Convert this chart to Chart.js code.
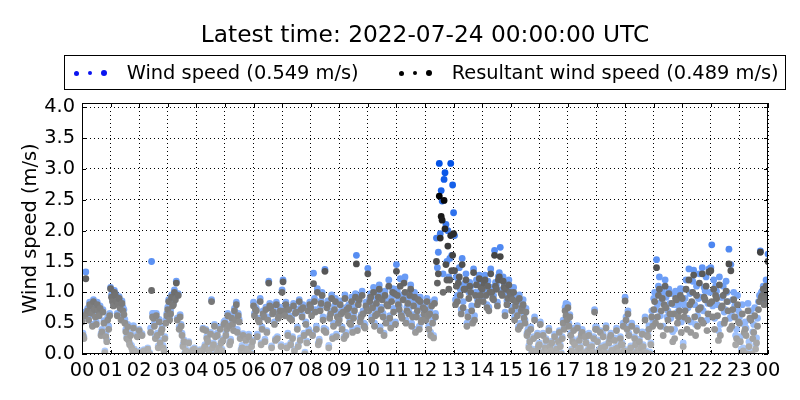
<!DOCTYPE html>
<html>
<head>
<meta charset="utf-8">
<title>Wind speed</title>
<script src="https://cdn.jsdelivr.net/npm/chart.js@4.4.1/dist/chart.umd.min.js"></script>
<style>
  body { margin: 0; background: #fff; }
  #wrap { position: relative; width: 800px; height: 400px; font-family: 'DejaVu Sans', sans-serif; color: #000; }
  #title { position: absolute; left: 125px; width: 600px; top: 22px; text-align: center; font-size: 23.3px; line-height: 1; white-space: nowrap; }
  #legend { position: absolute; left: 64px; top: 55px; width: 722px; height: 35px; border: 1px solid #000; box-sizing: border-box; background: #fff; }
  .lbl { position: absolute; top: 6.6px; font-size: 19.4px; line-height: 1; white-space: nowrap; }
  .dot { position: absolute; border-radius: 50%; }
</style>
</head>
<body>
<div id="wrap">
  <canvas id="chart"></canvas>
  <div id="title">Latest time: 2022-07-24 00:00:00 UTC</div>
  <div id="legend"></div>
</div>
<script>
/* Wind speed vs resultant wind speed, one value every 2 minutes,
   read off the reference plot (00:00 -> 24:00 UTC), one line per hour. */

const stepMinutes = 2;

const hourTicks = ['00', '01', '02', '03', '04', '05', '06', '07', '08', '09', '10', '11',
  '12', '13', '14', '15', '16', '17', '18', '19', '20', '21', '22', '23', '00'];

const windSpeed = [
  0.56, 0.34, 0.28, 0.68, 1.33, 0.70, 0.74, 0.60, 0.84, 0.82, 0.70, 0.48, 0.88, 0.76, 0.64, 0.52, 0.84, 0.74, 0.66, 0.78, 0.33, 0.40, 0.72, 0.54, 0.05, 0.32, 0.23, 0.60, 0.45, 0.66,
  1.08, 0.96, 0.88, 0.82, 1.03, 0.98, 0.88, 0.66, 0.84, 0.93, 0.78, 0.60, 0.86, 0.76, 0.72, 0.56, 0.40, 0.28, 0.48, 0.26, 0.18, 0.34, 0.14, 0.08, 0.46, 0.08, 0.02, 0.02, 0.32, 0.04,
  0.40, 0.05, 0.02, 0.33, 0.02, 0.07, 0.06, 0.03, 0.04, 0.10, 0.02, 0.02, 0.42, 1.50, 0.66, 0.66, 0.50, 0.28, 0.66, 0.34, 0.13, 0.56, 0.22, 0.38, 0.44, 0.14, 0.08, 0.28, 0.55, 0.66,
  0.76, 0.88, 0.58, 0.70, 0.96, 0.82, 0.84, 1.04, 0.92, 1.18, 0.58, 0.98, 0.44, 0.64, 0.48, 0.34, 0.15, 0.23, 0.02, 0.08, 0.04, 0.02, 0.20, 0.02, 0.02, 0.04, 0.08, 0.02, 0.10, 0.02,
  0.02, 0.04, 0.02, 0.02, 0.07, 0.05, 0.02, 0.42, 0.10, 0.15, 0.40, 0.28, 0.23, 0.09, 0.02, 0.35, 0.88, 0.13, 0.18, 0.48, 0.31, 0.03, 0.34, 0.08, 0.13, 0.44, 0.21, 0.08, 0.25, 0.52,
  0.54, 0.34, 0.44, 0.66, 0.48, 0.18, 0.24, 0.62, 0.52, 0.42, 0.74, 0.60, 0.84, 0.40, 0.66, 0.56, 0.28, 0.08, 0.14, 0.33, 0.02, 0.03, 0.26, 0.11, 0.08, 0.32, 0.02, 0.02, 0.15, 0.23,
  0.84, 0.66, 0.76, 0.74, 0.32, 0.58, 0.56, 0.90, 0.18, 0.44, 0.70, 0.64, 0.24, 0.76, 0.38, 0.60, 1.18, 0.82, 0.80, 0.13, 0.70, 0.72, 0.52, 0.25, 0.84, 0.28, 0.62, 0.66, 0.76, 0.15,
  1.04, 1.20, 0.74, 0.66, 0.84, 0.13, 0.34, 0.76, 0.62, 0.18, 0.60, 0.28, 0.82, 0.08, 0.70, 0.73, 0.44, 0.15, 0.88, 0.26, 0.76, 0.64, 0.80, 0.34, 0.03, 0.52, 0.21, 0.75, 0.40, 0.84,
  0.80, 0.68, 0.34, 1.31, 0.90, 0.72, 0.45, 1.06, 0.18, 0.24, 0.76, 0.86, 1.00, 0.60, 0.42, 1.37, 0.40, 0.80, 0.86, 0.14, 0.62, 0.70, 0.96, 0.28, 0.50, 0.78, 0.90, 0.32, 0.66, 0.54,
  0.60, 0.86, 0.70, 0.44, 0.74, 0.28, 0.96, 0.35, 0.76, 0.68, 0.80, 0.54, 0.52, 0.92, 0.40, 0.64, 0.76, 0.98, 1.60, 0.42, 0.86, 0.94, 0.58, 0.64, 1.02, 0.70, 0.50, 0.48, 0.84, 0.76,
  1.39, 0.76, 0.90, 0.98, 0.60, 0.80, 1.08, 0.50, 0.66, 0.90, 0.72, 0.98, 1.12, 0.44, 0.76, 0.95, 0.66, 0.34, 1.02, 0.56, 0.86, 0.84, 1.20, 0.62, 0.48, 0.92, 1.06, 0.74, 1.05, 0.52,
  1.45, 1.02, 0.86, 0.78, 1.22, 0.66, 0.64, 0.96, 1.20, 1.25, 0.55, 0.76, 0.90, 0.72, 1.00, 1.12, 0.50, 0.64, 0.86, 1.00, 0.40, 0.66, 0.78, 0.92, 0.45, 0.92, 0.56, 0.60, 0.82, 0.70,
  0.78, 0.60, 0.90, 0.66, 0.45, 0.72, 0.35, 0.84, 0.55, 0.30, 0.88, 0.66, 1.88, 1.40, 1.65, 3.09, 1.95, 2.65, 2.48, 1.30, 2.83, 2.94, 2.10, 1.50, 2.00, 1.25, 1.55, 3.09, 1.60, 2.74,
  2.29, 1.92, 0.88, 1.25, 0.95, 1.22, 1.40, 1.05, 0.72, 1.55, 0.85, 1.12, 1.15, 1.30, 0.50, 0.68, 1.00, 1.16, 1.10, 0.78, 0.55, 1.38, 0.62, 1.00, 1.20, 0.88, 0.90, 1.28, 1.02, 1.14,
  1.12, 0.92, 1.20, 1.28, 1.02, 0.80, 1.18, 0.76, 1.06, 1.38, 1.08, 0.96, 0.95, 1.68, 1.16, 1.12, 0.84, 1.26, 1.32, 1.73, 1.04, 1.02, 1.25, 1.14, 0.68, 1.12, 0.86, 0.98, 1.20, 1.06,
  1.02, 0.76, 0.94, 1.08, 0.60, 0.84, 0.92, 0.68, 0.44, 0.96, 0.50, 0.76, 0.82, 0.88, 0.64, 0.55, 0.74, 0.34, 0.40, 0.14, 0.23, 0.44, 0.03, 0.08, 0.28, 0.60, 0.02, 0.08, 0.34, 0.15,
  0.18, 0.52, 0.04, 0.03, 0.34, 0.02, 0.13, 0.25, 0.08, 0.02, 0.42, 0.15, 0.08, 0.21, 0.02, 0.02, 0.32, 0.05, 0.11, 0.03, 0.23, 0.38, 0.15, 0.02, 0.28, 0.55, 0.44, 0.76, 0.82, 0.60,
  0.80, 0.50, 0.64, 0.34, 0.08, 0.24, 0.42, 0.18, 0.02, 0.02, 0.46, 0.11, 0.25, 0.13, 0.33, 0.40, 0.03, 0.04, 0.32, 0.21, 0.02, 0.08, 0.34, 0.13, 0.02, 0.15, 0.05, 0.28, 0.72, 0.44,
  0.44, 0.23, 0.02, 0.08, 0.38, 0.13, 0.02, 0.32, 0.04, 0.15, 0.46, 0.02, 0.03, 0.21, 0.28, 0.34, 0.09, 0.02, 0.02, 0.26, 0.11, 0.42, 0.13, 0.04, 0.02, 0.28, 0.18, 0.18, 0.50, 0.08,
  0.92, 0.60, 0.44, 0.70, 0.34, 0.08, 0.13, 0.50, 0.03, 0.03, 0.28, 0.18, 0.42, 0.08, 0.02, 0.24, 0.02, 0.13, 0.36, 0.15, 0.05, 0.60, 0.05, 0.36, 0.32, 0.46, 0.03, 0.18, 0.70, 0.55,
  0.90, 1.00, 0.72, 1.53, 0.80, 1.10, 1.25, 0.62, 0.85, 1.02, 0.45, 0.98, 1.20, 0.92, 0.60, 0.70, 1.05, 0.82, 0.58, 0.98, 0.36, 0.80, 0.40, 1.02, 1.00, 0.68, 0.78, 0.85, 1.06, 0.52,
  1.05, 0.18, 0.80, 0.90, 1.20, 0.58, 0.75, 1.38, 0.98, 0.52, 1.00, 1.18, 1.36, 0.80, 0.48, 1.10, 0.62, 0.90, 1.30, 0.92, 0.75, 1.40, 0.70, 1.08, 1.02, 1.25, 0.55, 0.82, 1.38, 1.00,
  1.40, 1.77, 0.78, 1.20, 0.58, 1.10, 1.02, 0.80, 0.38, 1.25, 0.48, 0.92, 0.92, 1.10, 0.68, 0.72, 1.18, 1.00, 0.85, 1.70, 0.58, 1.45, 0.62, 0.88, 1.00, 0.78, 0.30, 0.40, 0.95, 0.70,
  0.60, 0.28, 0.08, 0.80, 0.10, 0.48, 0.52, 0.42, 0.04, 0.82, 0.20, 0.70, 0.70, 0.04, 0.36, 0.48, 0.75, 0.15, 0.26, 0.58, 0.85, 0.95, 1.67, 1.00, 1.02, 1.10, 0.88, 0.98, 1.20, 1.08,
  1.62
];

const resultantSpeed = [
  0.52, 0.30, 0.25, 0.62, 1.22, 0.66, 0.70, 0.55, 0.80, 0.78, 0.66, 0.45, 0.85, 0.72, 0.60, 0.48, 0.80, 0.70, 0.62, 0.74, 0.30, 0.36, 0.68, 0.50, 0.02, 0.28, 0.20, 0.55, 0.40, 0.62,
  1.06, 0.92, 0.85, 0.78, 1.00, 0.95, 0.85, 0.62, 0.80, 0.90, 0.74, 0.55, 0.82, 0.70, 0.64, 0.50, 0.36, 0.25, 0.44, 0.22, 0.15, 0.30, 0.10, 0.05, 0.42, 0.05, 0.00, 0.00, 0.28, 0.02,
  0.38, 0.02, 0.00, 0.30, 0.00, 0.05, 0.04, 0.00, 0.02, 0.08, 0.00, 0.00, 0.35, 1.03, 0.60, 0.58, 0.45, 0.25, 0.62, 0.30, 0.10, 0.52, 0.18, 0.35, 0.40, 0.10, 0.05, 0.25, 0.50, 0.62,
  0.72, 0.85, 0.55, 0.65, 0.92, 0.78, 0.80, 1.00, 0.88, 1.15, 0.55, 0.95, 0.40, 0.60, 0.45, 0.30, 0.12, 0.20, 0.00, 0.05, 0.02, 0.00, 0.18, 0.00, 0.00, 0.02, 0.06, 0.00, 0.08, 0.00,
  0.00, 0.02, 0.00, 0.00, 0.05, 0.03, 0.00, 0.40, 0.08, 0.12, 0.38, 0.25, 0.20, 0.06, 0.00, 0.32, 0.85, 0.10, 0.15, 0.45, 0.28, 0.00, 0.30, 0.05, 0.10, 0.40, 0.18, 0.05, 0.22, 0.48,
  0.50, 0.30, 0.40, 0.62, 0.45, 0.15, 0.20, 0.58, 0.48, 0.38, 0.70, 0.55, 0.80, 0.35, 0.62, 0.52, 0.25, 0.05, 0.10, 0.30, 0.00, 0.00, 0.22, 0.08, 0.05, 0.28, 0.00, 0.00, 0.12, 0.20,
  0.78, 0.62, 0.72, 0.70, 0.28, 0.55, 0.52, 0.85, 0.15, 0.40, 0.65, 0.60, 0.20, 0.72, 0.35, 0.55, 1.15, 0.78, 0.75, 0.10, 0.65, 0.68, 0.48, 0.22, 0.80, 0.25, 0.58, 0.62, 0.70, 0.12,
  1.00, 1.17, 0.70, 0.62, 0.80, 0.10, 0.30, 0.72, 0.58, 0.15, 0.55, 0.25, 0.78, 0.05, 0.66, 0.68, 0.40, 0.12, 0.85, 0.22, 0.72, 0.60, 0.75, 0.30, 0.00, 0.48, 0.18, 0.70, 0.35, 0.80,
  0.75, 0.62, 0.30, 1.14, 0.85, 0.68, 0.40, 1.00, 0.15, 0.20, 0.70, 0.82, 0.95, 0.55, 0.38, 1.34, 0.35, 0.75, 0.80, 0.10, 0.58, 0.65, 0.90, 0.25, 0.45, 0.72, 0.85, 0.28, 0.60, 0.50,
  0.55, 0.80, 0.65, 0.40, 0.68, 0.25, 0.90, 0.30, 0.72, 0.62, 0.75, 0.50, 0.48, 0.85, 0.35, 0.58, 0.70, 0.92, 1.46, 0.38, 0.80, 0.88, 0.52, 0.60, 0.95, 0.65, 0.45, 0.42, 0.78, 0.70,
  1.30, 0.70, 0.85, 0.92, 0.55, 0.75, 1.00, 0.45, 0.62, 0.82, 0.65, 0.92, 1.05, 0.38, 0.72, 0.88, 0.60, 0.30, 0.95, 0.50, 0.80, 0.78, 1.10, 0.58, 0.42, 0.85, 1.00, 0.68, 0.98, 0.48,
  1.34, 0.95, 0.80, 0.72, 1.10, 0.62, 0.58, 0.88, 1.15, 1.00, 0.50, 0.70, 0.82, 0.65, 0.95, 1.05, 0.45, 0.60, 0.78, 0.92, 0.35, 0.60, 0.70, 0.88, 0.40, 0.85, 0.52, 0.55, 0.75, 0.65,
  0.72, 0.55, 0.85, 0.62, 0.40, 0.65, 0.30, 0.78, 0.50, 0.26, 0.82, 0.60, 1.50, 1.15, 1.30, 2.56, 1.88, 2.23, 2.17, 1.00, 2.49, 2.03, 1.45, 1.20, 1.75, 1.05, 1.20, 1.92, 1.35, 1.60,
  1.95, 1.35, 0.80, 1.10, 0.85, 1.15, 1.25, 0.95, 0.65, 1.45, 0.75, 1.05, 1.05, 1.20, 0.45, 0.60, 0.90, 1.10, 1.00, 0.70, 0.50, 1.32, 0.55, 0.95, 1.12, 0.80, 0.85, 1.22, 0.95, 1.08,
  1.05, 0.85, 1.15, 1.20, 0.95, 0.75, 1.10, 0.70, 1.00, 1.30, 1.00, 0.90, 0.88, 1.60, 1.10, 1.05, 0.78, 1.20, 1.25, 1.58, 0.98, 0.95, 1.18, 1.08, 0.62, 1.05, 0.80, 0.90, 1.12, 1.00,
  0.95, 0.70, 0.88, 1.00, 0.55, 0.78, 0.85, 0.62, 0.40, 0.90, 0.45, 0.70, 0.75, 0.80, 0.58, 0.50, 0.68, 0.30, 0.35, 0.10, 0.20, 0.40, 0.00, 0.05, 0.25, 0.55, 0.00, 0.05, 0.30, 0.12,
  0.15, 0.48, 0.02, 0.00, 0.30, 0.00, 0.10, 0.22, 0.05, 0.00, 0.38, 0.12, 0.05, 0.18, 0.00, 0.00, 0.28, 0.03, 0.08, 0.00, 0.20, 0.35, 0.12, 0.00, 0.25, 0.50, 0.40, 0.70, 0.62, 0.55,
  0.75, 0.45, 0.60, 0.30, 0.05, 0.20, 0.38, 0.15, 0.00, 0.00, 0.42, 0.08, 0.22, 0.10, 0.30, 0.35, 0.00, 0.02, 0.28, 0.18, 0.00, 0.05, 0.30, 0.10, 0.00, 0.12, 0.03, 0.25, 0.68, 0.40,
  0.40, 0.20, 0.00, 0.05, 0.35, 0.10, 0.00, 0.28, 0.02, 0.12, 0.42, 0.00, 0.00, 0.18, 0.25, 0.30, 0.06, 0.00, 0.00, 0.22, 0.08, 0.38, 0.10, 0.02, 0.00, 0.25, 0.15, 0.15, 0.45, 0.05,
  0.86, 0.55, 0.40, 0.65, 0.30, 0.05, 0.10, 0.45, 0.00, 0.00, 0.25, 0.15, 0.38, 0.05, 0.00, 0.20, 0.00, 0.10, 0.32, 0.12, 0.02, 0.55, 0.02, 0.30, 0.28, 0.40, 0.00, 0.15, 0.60, 0.45,
  0.72, 0.85, 0.50, 1.40, 0.60, 0.95, 1.05, 0.45, 0.70, 0.90, 0.30, 0.80, 1.10, 0.75, 0.40, 0.55, 0.98, 0.65, 0.40, 0.82, 0.20, 0.65, 0.25, 0.90, 0.88, 0.50, 0.60, 0.70, 0.95, 0.35,
  0.90, 0.12, 0.60, 0.70, 1.05, 0.40, 0.55, 1.20, 0.80, 0.35, 0.85, 1.00, 1.28, 0.60, 0.30, 0.95, 0.45, 0.72, 1.15, 0.75, 0.55, 1.30, 0.50, 0.92, 0.88, 1.10, 0.38, 0.65, 1.33, 0.82,
  1.35, 0.85, 0.60, 1.05, 0.40, 0.95, 0.90, 0.62, 0.22, 1.12, 0.30, 0.75, 0.78, 0.95, 0.50, 0.55, 1.02, 0.85, 0.70, 1.46, 0.40, 1.35, 0.45, 0.72, 0.88, 0.60, 0.15, 0.25, 0.80, 0.52,
  0.50, 0.20, 0.02, 0.65, 0.05, 0.35, 0.40, 0.30, 0.00, 0.70, 0.12, 0.58, 0.55, 0.00, 0.25, 0.35, 0.62, 0.08, 0.18, 0.45, 0.72, 0.85, 1.65, 0.92, 0.95, 1.05, 0.80, 0.90, 1.10, 1.00,
  1.50
];

const legendItems = [
  { text: 'Wind speed (0.549 m/s)', color: '#0a14f0', dotsX: [76.7, 90, 104.3], textX: 126.7 },
  { text: 'Resultant wind speed (0.489 m/s)', color: '#000000', dotsX: [401.7, 415, 429.3], textX: 451.7 }
];

(function () {
  'use strict';

  const FONT = "'DejaVu Sans', 'Liberation Sans', sans-serif";
  const INK = '#000000';

  /* colour deepens with the value, as in the reference */
  function windColor(ctx) {
    const v = ctx.raw ? ctx.raw.y : 0;
    const t = Math.min(v / 3.13, 1);
    return 'rgb(' + Math.round(175 * (1 - t)) + ',' + Math.round(205 - 125 * t) + ',' + Math.round(255 - 25 * t) + ')';
  }
  function resultantColor(ctx) {
    const v = ctx.raw ? ctx.raw.y : 0;
    const t = Math.min(v / 2.6, 1);
    const g = Math.round(178 * (1 - t));
    return 'rgb(' + g + ',' + g + ',' + g + ')';
  }

  /* legend box drawn as html */
  const legendBox = document.getElementById('legend');
  const dotSizes = [5, 4, 6];
  legendItems.forEach(function (item) {
    item.dotsX.forEach(function (x, i) {
      const d = document.createElement('span');
      const s = dotSizes[i];
      d.className = 'dot';
      d.style.width = s + 'px';
      d.style.height = s + 'px';
      d.style.left = (x - 64 - 1 - s / 2) + 'px';
      d.style.top = (73.3 - 55 - 1 - s / 2) + 'px';
      d.style.background = item.color;
      legendBox.appendChild(d);
    });
    const t = document.createElement('span');
    t.className = 'lbl';
    t.textContent = item.text;
    t.style.left = (item.textX - 64 - 1) + 'px';
    legendBox.appendChild(t);
  });

  /* full black frame with inward ticks, like the matplotlib classic axes */
  const frame = {
    id: 'frame',
    afterDatasetsDraw(chart) {
      const { ctx, chartArea: a, scales } = chart;
      ctx.save();
      ctx.strokeStyle = INK;
      ctx.lineWidth = 1;
      ctx.beginPath();
      scales.x.ticks.forEach(function (tk) {
        const px = Math.round(scales.x.getPixelForValue(tk.value)) + 0.5;
        ctx.moveTo(px, a.bottom); ctx.lineTo(px, a.bottom - 4);
        ctx.moveTo(px, a.top); ctx.lineTo(px, a.top + 4);
      });
      scales.y.ticks.forEach(function (tk) {
        const py = Math.round(scales.y.getPixelForValue(tk.value)) + 0.5;
        ctx.moveTo(a.left, py); ctx.lineTo(a.left + 4, py);
        ctx.moveTo(a.right, py); ctx.lineTo(a.right - 4, py);
      });
      ctx.stroke();
      ctx.strokeRect(Math.round(a.left) + 0.5, Math.round(a.top) + 0.5,
        Math.round(a.right - a.left) - 1, Math.round(a.bottom - a.top) - 1);
      ctx.restore();
    }
  };

  Chart.defaults.font.family = FONT;
  Chart.defaults.color = INK;

  const toPoints = (arr) => arr.map((v, i) => ({ x: i * stepMinutes, y: v }));

  new Chart(document.getElementById('chart'), {
    type: 'scatter',
    data: {
      datasets: [
        {
          label: 'Resultant wind speed',
          data: toPoints(resultantSpeed),
          backgroundColor: resultantColor,
          order: 1,
        },
        {
          label: 'Wind speed',
          data: toPoints(windSpeed),
          backgroundColor: windColor,
          order: 2,
        },
      ],
    },
    options: {
      responsive: true,
      maintainAspectRatio: false,
      animation: false,
      events: [],
      layout: { padding: { top: 103, right: 32, left: 0, bottom: 0 } },
      elements: { point: { radius: 3.4, borderWidth: 0, hoverRadius: 3.4 } },
      datasets: { scatter: { clip: 0 } },
      plugins: { legend: { display: false }, tooltip: { enabled: false }, title: { display: false } },
      scales: {
        x: {
          type: 'linear',
          min: 0,
          max: 1440,
          afterFit: (s) => { s.height = 46; },
          grid: { color: INK, lineWidth: 1, drawTicks: false },
          border: { display: false, dash: [1, 3] },
          ticks: {
            stepSize: 60,
            autoSkip: false,
            maxRotation: 0,
            padding: 5,
            color: INK,
            font: { size: 19.4 },
            callback: (v) => hourTicks[v / 60],
          },
        },
        y: {
          min: 0,
          max: 4.07,
          afterFit: (s) => { s.width = 82; },
          grid: { color: INK, lineWidth: 1, drawTicks: false },
          border: { display: false, dash: [1, 3] },
          title: { display: true, text: 'Wind speed (m/s)', color: INK, font: { size: 19.4 }, padding: { top: 19, bottom: 0 } },
          ticks: {
            stepSize: 0.5,
            includeBounds: false,
            padding: 7,
            color: INK,
            font: { size: 19.4 },
            callback: (v) => v.toFixed(1),
          },
        },
      },
    },
    plugins: [frame],
  });
})();
</script>
</body>
</html>
